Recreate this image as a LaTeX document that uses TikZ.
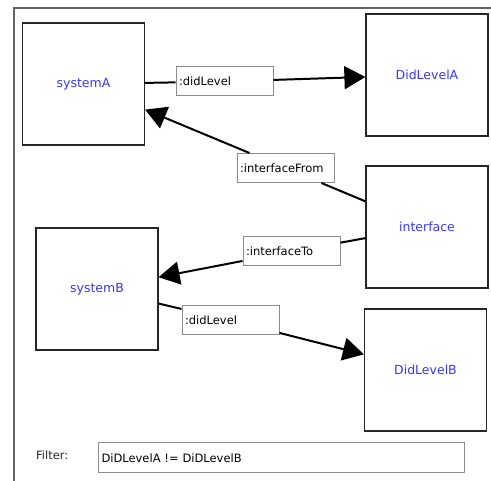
\documentclass[tikz,border=0pt]{standalone}
\usepackage{fontspec}
\setmainfont{DejaVu Sans}
\usetikzlibrary{arrows.meta}
\usetikzlibrary{positioning}
\definecolor{objblue}{RGB}{55,55,255}
\definecolor{boxgray}{RGB}{140,140,140}
\definecolor{framegray}{RGB}{100,100,100}
\tikzset {
  % object box of the pattern
  object/.style = {
    draw = black!85,
    line width = 1.2pt,
    rectangle,
    minimum width = 122pt,
    minimum height = 122pt,
    inner sep = 0,
    text = objblue,
    font = \fontsize{12.5}{14}\selectfont
  },
  % role name put on a link
  role/.style = {
    draw = boxgray,
    fill = white,
    line width = 1pt,
    rectangle,
    text width = 91pt,
    inner xsep = 3pt,
    inner ysep = 0,
    minimum height = 29pt,
    align = left,
    font = \fontsize{11.5}{13}\selectfont
  },
  % link between objects
  link/.style = {
    draw = black,
    line width = 2pt
  },
  larr/.style = {
    link,
    -{Triangle[length=21pt,width=23pt]}
  },
  frame/.style = {
    draw = framegray,
    line width = 1.3pt
  },
  node distance = 0.5cm
}

\begin{document}
\begin{tikzpicture}[x=1pt,y=-1pt]
    \useasboundingbox (0,0) rectangle (491,481);
    \draw[frame] (14,481) |- (491,8);

    \node[object] (systemA) at (83.5,84) {systemA};
    \node[object] (didLevelA) at (427,75) {DidLevelA};
    \node[object] (iface) at (427,227) {interface};
    \node[object] (systemB) at (97,289) {systemB};
    \node[object] (didLevelB) at (425.5,370) {DidLevelB};

    \node[role] (roleA) at (224.5,81.5) {:didLevel};
    \node[role] (roleFrom) at (285.5,168) {:interfaceFrom};
    \node[role] (roleTo) at (291.5,251.5) {:interfaceTo};
    \node[role] (roleB) at (230.5,320.5) {:didLevel};

    \draw[link] (systemA) -- (roleA);
    \draw[larr] (roleA) -- (didLevelA);
    \draw[link] (iface) -- (roleFrom);
    \draw[larr] (roleFrom) -- (systemA);
    \draw[link] (iface) -- (roleTo);
    \draw[larr] (roleTo) -- (systemB);
    \draw[link] (systemB) -- (roleB);
    \draw[larr] (roleB) -- (didLevelB);

    % filter expression
    \node[anchor=west, text=black!85, font=\fontsize{11.5}{13}\selectfont,
      inner sep=0] (filter) at (36,455) {Filter:};
    \node[role, anchor=west, text width=360pt, minimum height=30pt]
      (expr) at (98,458) {DiDLevelA != DiDLevelB};
  \end{tikzpicture}
\end{document}
